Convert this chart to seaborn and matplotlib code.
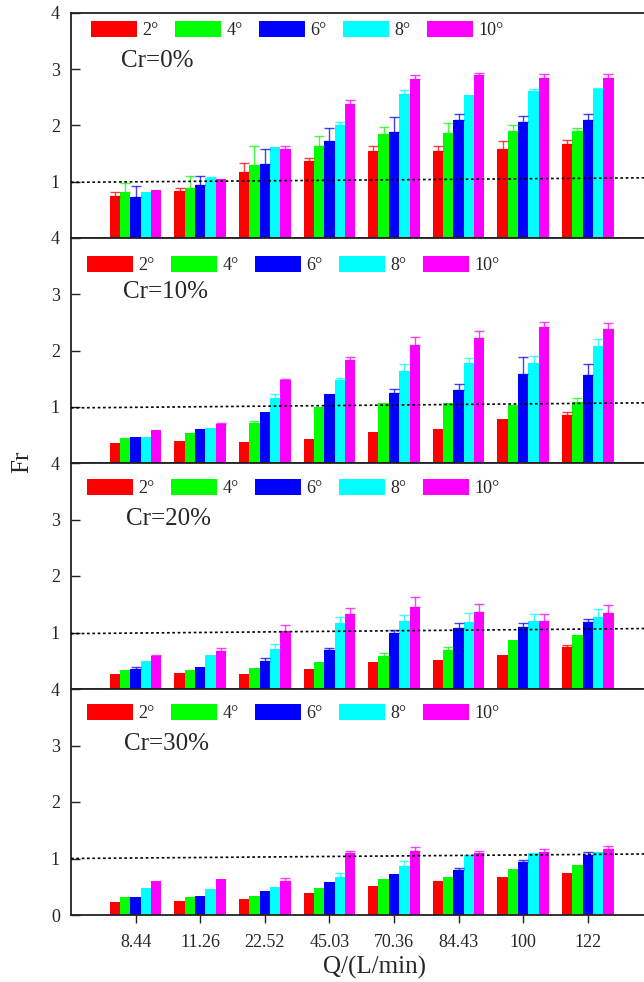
import matplotlib
matplotlib.use("Agg")
import matplotlib.pyplot as plt
import seaborn as sns
import pandas as pd
from matplotlib.patches import Patch
from matplotlib.container import BarContainer

sns.set_style("ticks")
plt.rcParams['font.family'] = ['Liberation Serif', 'DejaVu Serif']

flows = ["8.44", "11.26", "22.52", "45.03", "70.36", "84.43", "100", "122"]
angles = ["2°", "4°", "6°", "8°", "10°"]
colors = ["#FF0000", "#00FF00", "#0000FF", "#00FFFF", "#FF00FF"]
panel_labels = ["Cr=0%", "Cr=10%", "Cr=20%", "Cr=30%"]

# Fr values per panel, per angle
fr_cr0 = [
    [0.74, 0.84, 1.17, 1.36, 1.54, 1.54, 1.59, 1.67],
    [0.81, 0.89, 1.29, 1.64, 1.85, 1.87, 1.90, 1.90],
    [0.73, 0.95, 1.32, 1.72, 1.89, 2.10, 2.07, 2.10],
    [0.82, 1.07, 1.61, 2.01, 2.56, 2.55, 2.61, 2.64],
    [0.85, 1.05, 1.58, 2.38, 2.83, 2.89, 2.85, 2.84],
]
err_cr0 = [
    [0.08, 0.05, 0.16, 0.06, 0.10, 0.10, 0.13, 0.07],
    [0.16, 0.21, 0.34, 0.18, 0.13, 0.17, 0.10, 0.06],
    [0.19, 0.15, 0.26, 0.23, 0.26, 0.10, 0.10, 0.10],
    [0.00, 0.01, 0.00, 0.06, 0.07, 0.00, 0.04, 0.03],
    [0.00, 0.00, 0.06, 0.07, 0.07, 0.04, 0.07, 0.07],
]
fr_cr10 = [
    [0.36, 0.39, 0.38, 0.42, 0.56, 0.60, 0.78, 0.85],
    [0.45, 0.53, 0.71, 1.00, 1.06, 1.06, 1.03, 1.08],
    [0.46, 0.60, 0.90, 1.22, 1.25, 1.29, 1.58, 1.57],
    [0.47, 0.62, 1.16, 1.47, 1.64, 1.77, 1.77, 2.08],
    [0.59, 0.69, 1.47, 1.83, 2.09, 2.22, 2.41, 2.38],
]
err_cr10 = [
    [0.00, 0.00, 0.00, 0.00, 0.00, 0.00, 0.00, 0.05],
    [0.00, 0.00, 0.04, 0.00, 0.00, 0.00, 0.00, 0.08],
    [0.00, 0.00, 0.00, 0.00, 0.06, 0.11, 0.30, 0.19],
    [0.00, 0.00, 0.07, 0.05, 0.12, 0.09, 0.14, 0.13],
    [0.00, 0.03, 0.03, 0.06, 0.15, 0.12, 0.09, 0.11],
]
fr_cr20 = [
    [0.26, 0.28, 0.27, 0.35, 0.47, 0.51, 0.61, 0.74],
    [0.34, 0.34, 0.38, 0.48, 0.59, 0.69, 0.87, 0.95],
    [0.36, 0.39, 0.49, 0.69, 0.99, 1.08, 1.09, 1.18],
    [0.49, 0.60, 0.71, 1.17, 1.20, 1.18, 1.20, 1.28],
    [0.58, 0.67, 1.02, 1.32, 1.45, 1.37, 1.21, 1.34],
]
err_cr20 = [
    [0.00, 0.00, 0.00, 0.00, 0.00, 0.00, 0.00, 0.03],
    [0.00, 0.00, 0.00, 0.00, 0.05, 0.06, 0.00, 0.00],
    [0.03, 0.00, 0.06, 0.04, 0.05, 0.08, 0.07, 0.06],
    [0.00, 0.00, 0.08, 0.11, 0.11, 0.16, 0.12, 0.13],
    [0.02, 0.05, 0.12, 0.12, 0.17, 0.13, 0.12, 0.14],
]
fr_cr30 = [
    [0.23, 0.24, 0.28, 0.39, 0.51, 0.61, 0.67, 0.74],
    [0.31, 0.32, 0.34, 0.47, 0.63, 0.68, 0.81, 0.89],
    [0.32, 0.34, 0.42, 0.58, 0.73, 0.80, 0.94, 1.06],
    [0.48, 0.46, 0.50, 0.67, 0.87, 1.07, 1.10, 1.11],
    [0.60, 0.64, 0.60, 1.09, 1.13, 1.10, 1.11, 1.16],
]
err_cr30 = [
    [0.00, 0.00, 0.00, 0.00, 0.00, 0.00, 0.00, 0.00],
    [0.00, 0.00, 0.00, 0.00, 0.00, 0.00, 0.00, 0.00],
    [0.00, 0.00, 0.00, 0.00, 0.00, 0.04, 0.04, 0.05],
    [0.00, 0.00, 0.00, 0.07, 0.08, 0.00, 0.00, 0.00],
    [0.00, 0.00, 0.05, 0.05, 0.08, 0.03, 0.05, 0.07],
]
# reference dotted line (Fr at left and right edge of the plot)
ref_left = [0.99, 0.98, 0.98, 1.00]
ref_right = [1.07, 1.07, 1.07, 1.08]

panels_fr = [fr_cr0, fr_cr10, fr_cr20, fr_cr30]
panels_err = [err_cr0, err_cr10, err_cr20, err_cr30]

W, H = 644, 982
fig = plt.figure(figsize=(W / 100, H / 100), dpi=100)

ax_left, ax_right = 71, 644
panel_px = [(13, 238), (238, 463), (463, 689), (689, 915)]
legend_pos = [(91, 30), (87, 265), (87, 488), (87, 713)]
text_pos = [(121, 61), (123, 292), (126, 519), (124, 744)]
XMIN, XMAX = -1, 7.87
spine_color = "#222222"

for p in range(4):
    top, bot = panel_px[p]
    ax = fig.add_axes([ax_left / W, 1 - bot / H, (ax_right - ax_left) / W, (bot - top) / H])
    rows = []
    for j, a in enumerate(angles):
        for i, f in enumerate(flows):
            rows.append({"Q": f, "angle": a, "Fr": panels_fr[p][j][i]})
    df = pd.DataFrame(rows)
    sns.barplot(data=df, x="Q", y="Fr", hue="angle", order=flows, hue_order=angles,
                palette=colors, width=0.8, errorbar=None, ax=ax, saturation=1,
                linewidth=0, legend=False)
    bar_conts = [c for c in ax.containers if isinstance(c, BarContainer)]
    # error bars (upper only)
    for j, cont in enumerate(bar_conts):
        for i, bar in enumerate(cont.patches):
            e = panels_err[p][j][i]
            if e > 0:
                xc = bar.get_x() + bar.get_width() / 2
                ax.errorbar([xc], [bar.get_height()], yerr=[[0], [e]], fmt="none",
                            ecolor=colors[j], elinewidth=1.0, capsize=3.6,
                            capthick=1.0, alpha=0.75, zorder=3)
    ax.plot([XMIN, XMAX], [ref_left[p], ref_right[p]], color="black", lw=1.2,
            dashes=(1.6, 1.6), zorder=4)
    ax.set_xlim(XMIN, XMAX)
    ax.set_ylim(0, 4)
    if p < 3:
        ax.set_yticks([1, 2, 3, 4])
        ax.set_xticks(range(len(flows)))
        ax.set_xticklabels([])
    else:
        ax.set_yticks([0, 1, 2, 3, 4])
        ax.set_xticks(range(len(flows)))
        ax.set_xticklabels(flows)
    ax.set_xlabel("")
    ax.set_ylabel("")
    ax.tick_params(axis="y", direction="in", length=6.5, width=1.0, color=spine_color,
                   labelsize=13, pad=8)
    ax.tick_params(axis="x", direction="out", length=6, width=1.0, color=spine_color,
                   labelsize=13, pad=8)
    for s in ["left", "bottom", "top"]:
        ax.spines[s].set_visible(True)
        ax.spines[s].set_linewidth(1.3)
        ax.spines[s].set_color(spine_color)
    ax.spines["right"].set_visible(False)
    ax.set_facecolor("white")

    handles = [Patch(facecolor=c, edgecolor="none") for c in colors]
    lx, ly = legend_pos[p]
    ax.legend(handles, angles, loc="center left", bbox_to_anchor=(lx / W, 1 - ly / H),
              bbox_transform=fig.transFigure, ncol=5, frameon=False, fontsize=13,
              handlelength=2.55, handleheight=1.0, handletextpad=0.3,
              columnspacing=0.9, borderpad=0, borderaxespad=0)
    tx, ty = text_pos[p]
    fig.text(tx / W, 1 - ty / H, panel_labels[p], fontsize=18, ha="left", va="center")

fig.text(22 / W, 1 - 462 / H, "Fr", fontsize=18, rotation=90, ha="center", va="center")
fig.text(375 / W, 1 - 967 / H, "Q/(L/min)", fontsize=18, ha="center", va="center")

fig.savefig("out.png", dpi=100, facecolor="white")
